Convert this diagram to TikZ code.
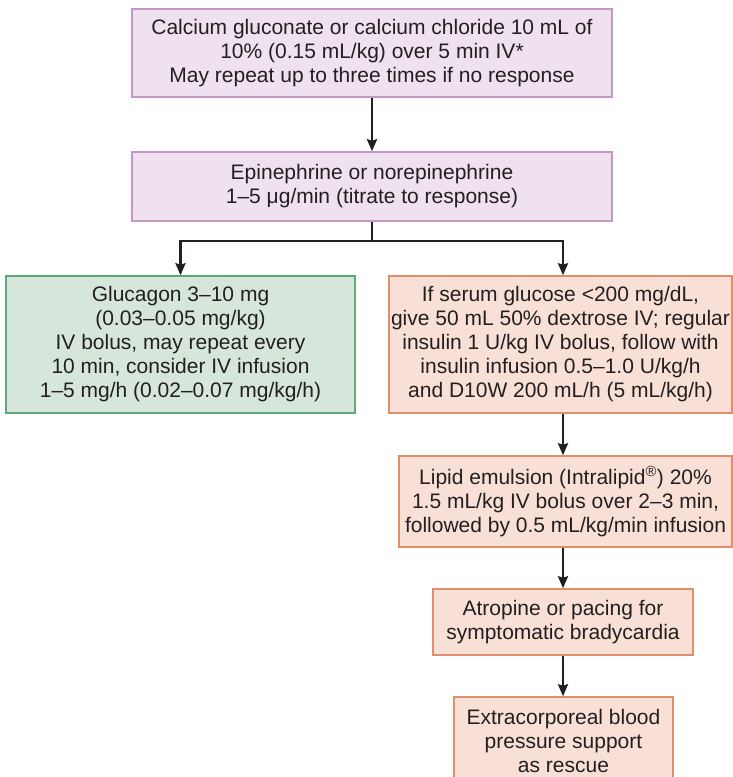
\documentclass[tikz,border=0pt]{standalone}
\usepackage{fontspec}
\setmainfont{Liberation Sans}
\usetikzlibrary{arrows.meta}
\definecolor{inkc}{HTML}{231F20}
\definecolor{purplefill}{HTML}{EFE1EF}
\definecolor{purpleline}{HTML}{C597C6}
\definecolor{greenfill}{HTML}{D6E6DB}
\definecolor{greenline}{HTML}{5DAA76}
\definecolor{orangefill}{HTML}{F9E0D6}
\definecolor{orangeline}{HTML}{E08E6C}
\tikzset{
  box/.style={draw, line width=1.5pt, inner sep=0pt, align=center,
    text=inkc, font=\fontsize{21}{24}\selectfont},
  purplebox/.style={box, fill=purplefill, draw=purpleline},
  greenbox/.style={box, fill=greenfill, draw=greenline},
  orangebox/.style={box, fill=orangefill, draw=orangeline},
  link/.style={draw=inkc, line width=2.5pt},
  arrowlink/.style={link, -{Stealth[length=12pt,width=10pt,inset=1.5pt]}},
}
\begin{document}
\begin{tikzpicture}[x=1pt,y=-1pt]
\clip (0,0) rectangle (733,777);
\fill[white] (0,0) rectangle (733,777);

% calcium
\node[purplebox, minimum width=480pt, minimum height=88pt] (calcium) at (372,53)
  {Calcium gluconate or calcium chloride 10 mL of\\
   10\% (0.15 mL/kg) over 5 min IV*\\
   May repeat up to three times if no response};

% vasopressor
\node[purplebox, minimum width=480pt, minimum height=69pt] (vaso) at (372,186.5)
  {Epinephrine or norepinephrine\\
   1–5 μg/min (titrate to response)};

% glucagon branch
\node[greenbox, minimum width=349pt, minimum height=137pt] (glucagon) at (180.5,344.5)
  {Glucagon 3–10 mg\\
   (0.03–0.05 mg/kg)\\
   IV bolus, may repeat every\\
   10 min, consider IV infusion\\
   1–5 mg/h (0.02–0.07 mg/kg/h)};

% insulin branch
\node[orangebox, minimum width=343pt, minimum height=137pt] (insulin) at (560.5,344.5)
  {If serum glucose <200 mg/dL,\\
   give 50 mL 50\% dextrose IV; regular\\
   insulin 1 U/kg IV bolus, follow with\\
   insulin infusion 0.5–1.0 U/kg/h\\
   and D10W 200 mL/h (5 mL/kg/h)};

\node[orangebox, minimum width=333pt, minimum height=91pt] (lipid) at (565.5,501.5)
  {Lipid emulsion (Intralipid\textsuperscript{®}) 20\%\\
   1.5 mL/kg IV bolus over 2–3 min,\\
   followed by 0.5 mL/kg/min infusion};

\node[orangebox, minimum width=260pt, minimum height=66pt] (atropine) at (563,622)
  {Atropine or pacing for\\
   symptomatic bradycardia};

\node[orangebox, minimum width=219pt, minimum height=87pt] (ecmo) at (563.5,740.5)
  {Extracorporeal blood\\
   pressure support\\
   as rescue};

% connectors
\draw[arrowlink] (calcium.south) -- (vaso.north);
\draw[link] (vaso.south) -- ++(0,19) coordinate (split);
\draw[arrowlink] (split) -| (glucagon.north);
\draw[arrowlink] (split) -| ([xshift=2.5pt]insulin.north);
\draw[arrowlink] ([xshift=-2.5pt]lipid.north |- insulin.south) -- ([xshift=-2.5pt]lipid.north);
\draw[arrowlink] (atropine.north |- lipid.south) -- (atropine.north);
\draw[arrowlink] (atropine.south) -- (ecmo.north -| atropine.south);
\end{tikzpicture}
\end{document}
